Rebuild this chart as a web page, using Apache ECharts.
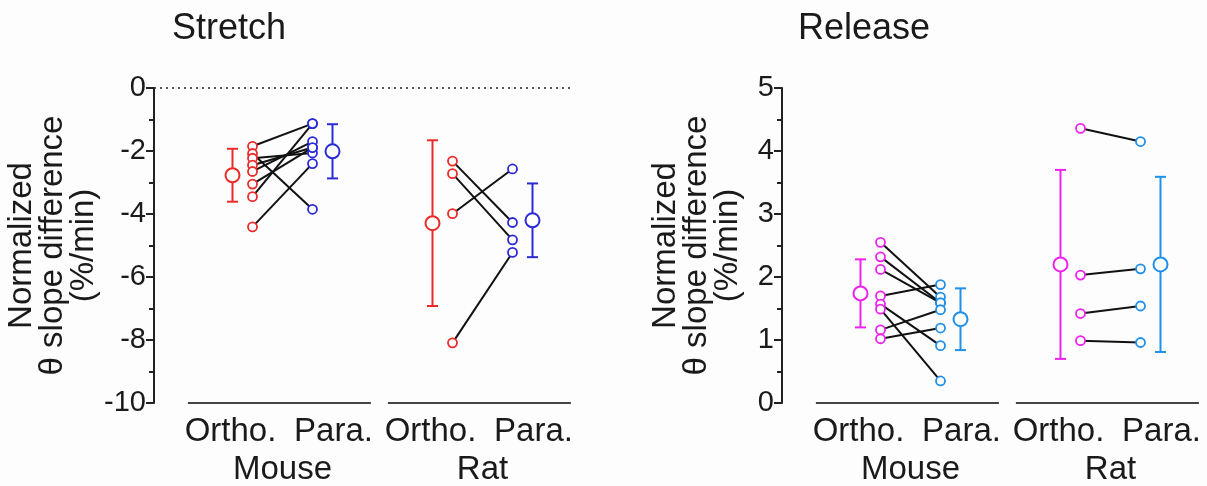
<!DOCTYPE html>
<html>
<head>
<meta charset="utf-8">
<script src="https://cdn.jsdelivr.net/npm/echarts@6/dist/echarts.min.js"></script>
<style>
  html, body { margin: 0; padding: 0; background: #fdfdfd; }
  #chart { width: 1207px; height: 486px; }
</style>
</head>
<body>
<div id="chart"></div>
<script>
// ---------------- data ----------------
const panelTitles = ['Stretch', 'Release'];
const groupNames = ['Mouse', 'Rat'];
const conditionNames = ['Ortho.', 'Para.'];

// Stretch: individual animals, paired ortho -> para
const stretchMouseOrtho = [-1.85, -2.08, -2.23, -2.45, -2.65, -3.05, -3.45, -4.41];
const stretchMousePara  = [-1.13, -3.85, -2.06, -1.89, -1.70, -1.89, -1.13, -2.40];
const stretchRatOrtho   = [-2.32, -2.72, -3.99, -8.09];
const stretchRatPara    = [-4.27, -4.82, -2.57, -5.22];
// Stretch means and SD: [mouse ortho, mouse para, rat ortho, rat para]
const stretchMeans = [-2.77, -2.01, -4.29, -4.20];
const stretchSD    = [0.84, 0.86, 2.63, 1.17];

// Release
const releaseMouseOrtho = [2.55, 2.32, 2.12, 1.70, 1.57, 1.49, 1.16, 1.02];
const releaseMousePara  = [1.68, 1.59, 1.59, 1.88, 0.91, 0.35, 1.48, 1.19];
const releaseRatOrtho   = [4.36, 2.03, 1.42, 0.99];
const releaseRatPara    = [4.15, 2.13, 1.54, 0.96];
const releaseMeans = [1.74, 1.33, 2.20, 2.20];
const releaseSD    = [0.54, 0.49, 1.50, 1.39];

// axis ranges / ticks
const stretchYMin = -10, stretchYMax = 0, stretchYInterval = 2;
const releaseYMin = 0, releaseYMax = 5, releaseYInterval = 1;

// ---------------- layout constants (x positions in group units) ----------------
const groupCenters = [0, 10];
const offMeanOrtho = -2.5, offOrtho = -1.5, offPara = 1.5, offMeanPara = 2.5;
const labelOffsets = [-2.6, 2.55];
const groupLineSpan = [-4.73, 4.42];
const X_MIN = -6.425, X_MAX = 14.5;

const FONT = 'Arial, "Liberation Sans", Helvetica, sans-serif';
const TXT = '#1a1a1a';

const colors = {
  stretchOrtho: '#ec2a2a',
  stretchPara: '#2a2ad8',
  releaseOrtho: '#ee22ee',
  releasePara: '#2090ea'
};

const series = [];

function addPanel(gi, groups, means, sds, colOrtho, colPara, yMin) {
  // group underline
  groups.forEach((g, k) => {
    const c = groupCenters[k];
    series.push({
      type: 'line', xAxisIndex: gi * 2, yAxisIndex: gi, silent: true,
      data: [[c + groupLineSpan[0], yMin], [c + groupLineSpan[1], yMin]],
      symbol: 'none', clip: false,
      lineStyle: { color: '#444', width: 2 }, z: 1
    });
  });
  // error bars
  const ebData = [];
  const ebColors = [];
  groups.forEach((g, k) => {
    const c = groupCenters[k];
    const mo = means[k * 2], so = sds[k * 2];
    const mp = means[k * 2 + 1], sp = sds[k * 2 + 1];
    ebData.push([c + offMeanOrtho, mo - so, mo + so]);
    ebColors.push(colOrtho);
    ebData.push([c + offMeanPara, mp - sp, mp + sp]);
    ebColors.push(colPara);
  });
  series.push({
    type: 'custom', xAxisIndex: gi * 2, yAxisIndex: gi, silent: true, clip: false,
    data: ebData, z: 2,
    encode: { x: 0, y: [1, 2] },
    renderItem: function (params, api) {
      const x = api.value(0), lo = api.value(1), hi = api.value(2);
      const pT = api.coord([x, hi]);
      const pB = api.coord([x, lo]);
      const col = ebColors[params.dataIndex];
      const st = { stroke: col, lineWidth: 2 };
      const cw = 5.5;
      return {
        type: 'group',
        children: [
          { type: 'line', shape: { x1: pT[0], y1: pT[1], x2: pB[0], y2: pB[1] }, style: st },
          { type: 'line', shape: { x1: pT[0] - cw, y1: pT[1], x2: pT[0] + cw, y2: pT[1] }, style: st },
          { type: 'line', shape: { x1: pB[0] - cw, y1: pB[1], x2: pB[0] + cw, y2: pB[1] }, style: st }
        ]
      };
    }
  });
  // paired lines + points
  groups.forEach((g, k) => {
    const c = groupCenters[k];
    g.ortho.forEach((v, i) => {
      series.push({
        type: 'line', xAxisIndex: gi * 2, yAxisIndex: gi, silent: true,
        data: [[c + offOrtho, v], [c + offPara, g.para[i]]],
        symbol: 'none', lineStyle: { color: '#111', width: 2 }, z: 3
      });
    });
    series.push({
      type: 'scatter', xAxisIndex: gi * 2, yAxisIndex: gi, silent: true,
      data: g.ortho.map(v => [c + offOrtho, v]),
      symbol: 'circle', symbolSize: 9,
      itemStyle: { color: '#fff', borderColor: colOrtho, borderWidth: 1.8, opacity: 1 }, z: 4
    });
    series.push({
      type: 'scatter', xAxisIndex: gi * 2, yAxisIndex: gi, silent: true,
      data: g.para.map(v => [c + offPara, v]),
      symbol: 'circle', symbolSize: 9,
      itemStyle: { color: '#fff', borderColor: colPara, borderWidth: 1.8, opacity: 1 }, z: 4
    });
    series.push({
      type: 'scatter', xAxisIndex: gi * 2, yAxisIndex: gi, silent: true,
      data: [[c + offMeanOrtho, means[k * 2]]],
      symbol: 'circle', symbolSize: 14,
      itemStyle: { color: '#fff', borderColor: colOrtho, borderWidth: 2, opacity: 1 }, z: 4
    });
    series.push({
      type: 'scatter', xAxisIndex: gi * 2, yAxisIndex: gi, silent: true,
      data: [[c + offMeanPara, means[k * 2 + 1]]],
      symbol: 'circle', symbolSize: 14,
      itemStyle: { color: '#fff', borderColor: colPara, borderWidth: 2, opacity: 1 }, z: 4
    });
  });
}

addPanel(0,
  [{ ortho: stretchMouseOrtho, para: stretchMousePara }, { ortho: stretchRatOrtho, para: stretchRatPara }],
  stretchMeans, stretchSD, colors.stretchOrtho, colors.stretchPara, stretchYMin);
addPanel(1,
  [{ ortho: releaseMouseOrtho, para: releaseMousePara }, { ortho: releaseRatOrtho, para: releaseRatPara }],
  releaseMeans, releaseSD, colors.releaseOrtho, colors.releasePara, releaseYMin);

// dotted zero line in the stretch panel
series.push({
  type: 'line', xAxisIndex: 0, yAxisIndex: 0, data: [], silent: true,
  markLine: {
    silent: true, symbol: 'none', label: { show: false },
    lineStyle: { type: [2, 4], color: '#222', width: 1.6 },
    data: [{ yAxis: 0 }]
  }
});

// condition & group label ticks
const condValues = [];
const condLabels = [];
groupCenters.forEach(c => {
  labelOffsets.forEach((o, j) => { condValues.push(c + o); condLabels.push(conditionNames[j]); });
});
function nearestLabel(v, values, labels) {
  let best = 0;
  values.forEach((x, i) => { if (Math.abs(x - v) < Math.abs(values[best] - v)) best = i; });
  return labels[best];
}

function xAxesFor(gi) {
  const base = {
    gridIndex: gi, type: 'value', min: X_MIN, max: X_MAX, position: 'bottom',
    axisLine: { show: false, onZero: false }, axisTick: { show: false }, splitLine: { show: false }
  };
  return [
    Object.assign({}, base, {
      axisLabel: {
        customValues: condValues, margin: 12,
        fontFamily: FONT, fontSize: 33, color: TXT,
        formatter: v => nearestLabel(v, condValues, condLabels)
      }
    }),
    Object.assign({}, base, {
      offset: 38,
      axisLabel: {
        customValues: groupCenters, margin: 12,
        fontFamily: FONT, fontSize: 33, color: TXT,
        formatter: v => nearestLabel(v, groupCenters, groupNames)
      }
    })
  ];
}

function yAxisFor(gi, min, max, interval, gap) {
  return {
    gridIndex: gi, type: 'value', min: min, max: max, interval: interval,
    name: 'Normalized\nθ slope difference\n(%/min)',
    nameLocation: 'middle', nameGap: gap, nameRotate: 90,
    nameTextStyle: { fontFamily: FONT, fontSize: 33, color: TXT, lineHeight: 31 },
    axisLine: { show: true, onZero: false, lineStyle: { color: '#222', width: 2 } },
    axisTick: { show: true, length: 8, lineStyle: { color: '#222', width: 2 } },
    minorTick: { show: true, splitNumber: 2, length: 5, lineStyle: { color: '#222', width: 2 } },
    splitLine: { show: false },
    axisLabel: { fontFamily: FONT, fontSize: 29, color: TXT, margin: 8 }
  };
}

const option = {
  backgroundColor: '#fdfdfd',
  animation: false,
  title: [
    { text: panelTitles[0], left: 167, top: 6, textStyle: { fontFamily: FONT, fontSize: 36, fontWeight: 'normal', color: TXT } },
    { text: panelTitles[1], left: 793, top: 6, textStyle: { fontFamily: FONT, fontSize: 36, fontWeight: 'normal', color: TXT } }
  ],
  grid: [
    { left: 154, top: 88, width: 418.5, height: 317 },
    { left: 782, top: 88, width: 418.5, height: 315 }
  ],
  xAxis: xAxesFor(0).concat(xAxesFor(1)),
  yAxis: [
    yAxisFor(0, stretchYMin, stretchYMax, stretchYInterval, 48),
    yAxisFor(1, releaseYMin, releaseYMax, releaseYInterval, 39)
  ],
  series: series
};

const chart = echarts.init(document.getElementById('chart'), null, { renderer: 'canvas' });
chart.setOption(option);
</script>
</body>
</html>
